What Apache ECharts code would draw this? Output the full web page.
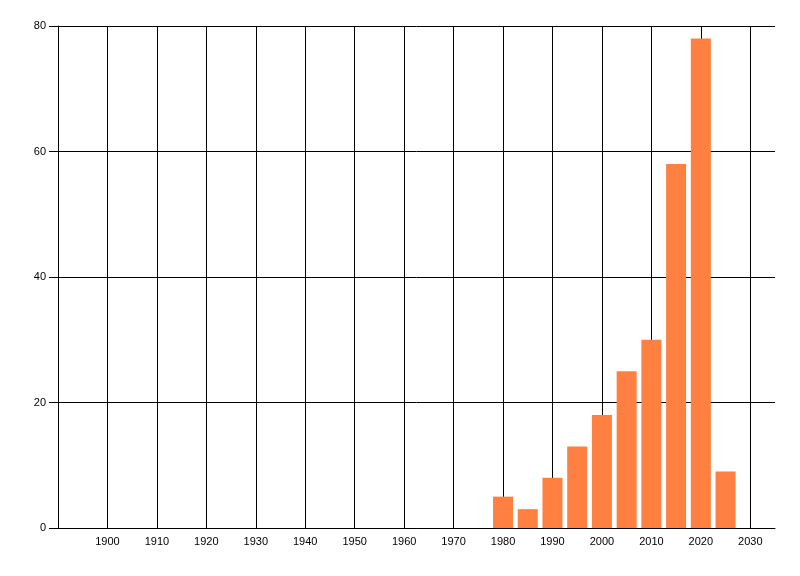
<!DOCTYPE html>
<html>
<head>
<meta charset="utf-8">
<script src="https://cdn.jsdelivr.net/npm/echarts@6/dist/echarts.min.js"></script>
<style>html,body{margin:0;padding:0;background:#fff}#c{width:800px;height:576px}</style>
</head>
<body>
<div id="c"></div>
<script>
const years = [1980, 1985, 1990, 1995, 2000, 2005, 2010, 2015, 2020, 2025];
const counts = [5, 3, 8, 13, 18, 25, 30, 58, 78, 9];
const xMin = 1890, xMax = 2035, xStep = 10;
const yMin = 0, yMax = 80, yStep = 20;

const chart = echarts.init(document.getElementById('c'), null, {renderer: 'canvas'});
const font = {fontFamily: 'Liberation Sans', fontSize: 11, color: '#000'};
chart.setOption({
  animation: false,
  backgroundColor: '#fff',
  grid: {left: 58, right: 25, top: 26, bottom: 48, containLabel: false},
  xAxis: {
    type: 'value', min: xMin, max: xMax, interval: xStep,
    axisLine: {show: true, lineStyle: {color: '#000', width: 1}},
    axisTick: {show: false},
    axisLabel: Object.assign({}, font, {
      margin: 8, showMinLabel: false, showMaxLabel: false,
      formatter: v => (v === xMin || v === xMax) ? '' : String(v)
    }),
    splitLine: {show: true, showMinLine: false, showMaxLine: false, lineStyle: {color: '#000', width: 1}}
  },
  yAxis: {
    type: 'value', min: yMin, max: yMax, interval: yStep,
    axisLine: {show: true, lineStyle: {color: '#000', width: 1}},
    axisTick: {show: true, length: 9, lineStyle: {color: '#000'}},
    axisLabel: Object.assign({}, font, {margin: 12}),
    splitLine: {show: true, lineStyle: {color: '#000', width: 1}}
  },
  series: [{
    type: 'bar',
    data: years.map((y, i) => [y, counts[i]]),
    barWidth: 20,
    itemStyle: {color: '#FF8040'}
  }]
});
</script>
</body>
</html>
